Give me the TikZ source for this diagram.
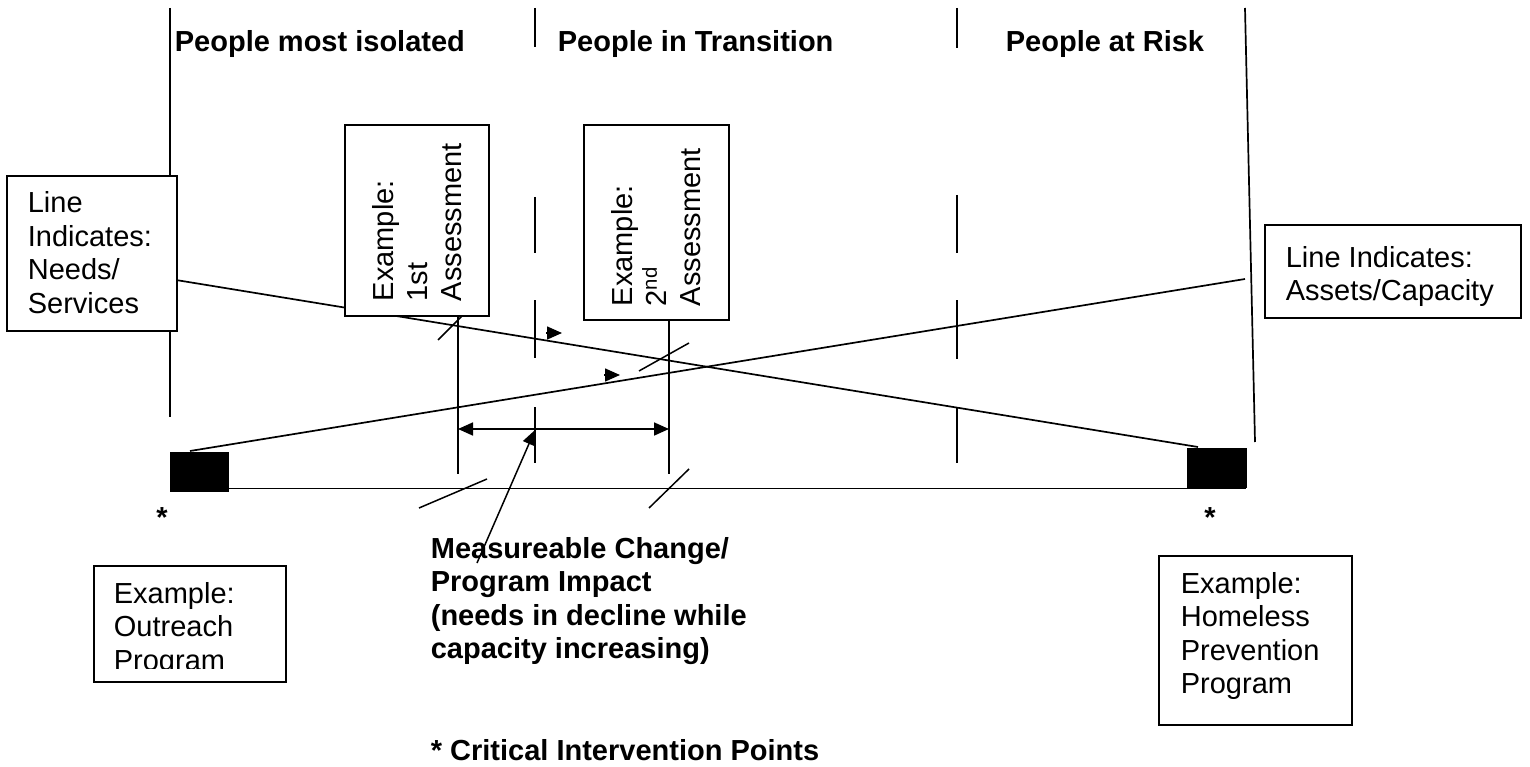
\documentclass[tikz,border=0pt]{standalone}
\usepackage{fontspec}
\setmainfont{Liberation Sans}
\usetikzlibrary{arrows.meta}
\newcommand{\tl}[1]{\begin{tabular}[t]{@{}l@{}}#1\end{tabular}}
\begin{document}
\begin{tikzpicture}[x=1pt,y=-1pt,line width=1.7pt,
  txt/.style={inner sep=0pt,anchor=base west,font=\fontsize{29}{33.5}\selectfont},
  hdr/.style={inner sep=0pt,anchor=base west,font=\fontsize{29}{33.5}\selectfont\bfseries},
  rtxt/.style={inner sep=0pt,anchor=base west,rotate=90,font=\fontsize{29}{34}\selectfont},
  box/.style={draw,fill=white,line width=1.7pt,inner sep=0pt,anchor=north west},
  blk/.style={fill=black,draw=none,inner sep=0pt,anchor=north west},
  tip/.style={-{Triangle[length=15pt,width=13pt]}},
  dtip/.style={{Triangle[length=15pt,width=13pt]}-{Triangle[length=15pt,width=13pt]}},
  star/.style={inner sep=0pt,anchor=base,font=\fontsize{29}{33.5}\selectfont\bfseries}]
\useasboundingbox (0,0) rectangle (1530,767);

% coordinates
\coordinate (l0t) at (170,8);   \coordinate (l0b) at (170,417);
\coordinate (rt)  at (1245,8);  \coordinate (rb)  at (1255,442);
\coordinate (nA) at (176,280);  \coordinate (nB) at (1198,447);
\coordinate (aA) at (190,451);  \coordinate (aB) at (1245,279);
\coordinate (v1t) at (458,315); \coordinate (v1b) at (458,474);
\coordinate (v2t) at (669,319); \coordinate (v2b) at (669,474);
\coordinate (hA) at (458,429);  \coordinate (hB) at (669,429);
\coordinate (pA) at (477,563);  \coordinate (pB) at (535,430);
\coordinate (bA) at (228,488.5); \coordinate (bB) at (1246,488.5);

% vertical boundary lines
\draw (l0t) -- (l0b);
\draw (rt) -- (rb);
\foreach \a/\b in {8/47,197/253,300/358,407/463}{\draw (535,\a) -- (535,\b);}
\foreach \a/\b in {8/48,195/253,300/359,407/463}{\draw (957,\a) -- (957,\b);}

% trend lines
\draw (nA) -- (nB);
\draw (aA) -- (aB);
\draw (bA) -- (bB);

% black squares
\node[blk,minimum width=59pt,minimum height=40pt] (sqL) at (169,451) {};
\node[blk,minimum width=60pt,minimum height=40pt] (sqR) at (1186,447) {};

% assessment lines and arrows
\draw (v1t) -- (v1b);
\draw (v2t) -- (v2b);
\draw[dtip] (hA) -- (hB);
\draw[tip,line width=1.5pt] (pA) -- (pB);

% ticks
\draw[line width=1.5pt] (438,340) -- (462,316);
\draw[line width=1.5pt] (639,371) -- (689,343);
\draw[line width=1.5pt] (419,508) -- (487,479);
\draw[line width=1.5pt] (649,508) -- (689,469);

% small arrows
\draw[tip,line width=1.5pt] (546,333) -- (562,333);
\draw[tip,line width=1.5pt] (604,375) -- (620,375);

% boxes
\node[box,minimum width=170pt,minimum height=155pt] (needs) at (6,175) {};
\node[txt] (needsT) at (27,213) {\tl{Line\\Indicates:\\Needs/\\Services}};

\node[box,minimum width=256pt,minimum height=93pt] (assets) at (1264,224) {};
\node[txt] (assetsT) at (1285,267) {\tl{Line Indicates:\\Assets/Capacity}};

\node[box,minimum width=144pt,minimum height=191pt] (b1) at (344,124) {};
\node[rtxt] (b1T) at (393,302) {\tl{Example:\\1st\\Assessment}};

\node[box,minimum width=145pt,minimum height=195pt] (b2) at (583,124) {};
\node[rtxt] (b2T) at (632,307) {\tl{Example:\\2\textsuperscript{nd}\\Assessment}};

\node[box,minimum width=192pt,minimum height=116pt] (outr) at (93,565) {};
\begin{scope}
\clip (93,565) rectangle (285,668.5);
\node[txt] (outrT) at (113,603) {\tl{Example:\\Outreach\\Program}};
\end{scope}

\node[box,minimum width=193pt,minimum height=169pt] (home) at (1158,555) {};
\node[txt] (homeT) at (1180,593) {\tl{Example:\\Homeless\\Prevention\\Program}};

% headers
\node[hdr] (h1) at (174,52) {People most isolated};
\node[hdr] (h2) at (557,52) {People in Transition};
\node[hdr] (h3) at (1005,52) {People at Risk};

% stars
\node[star] (s1) at (162,527) {*};
\node[star] (s2) at (1210,527) {*};

% bottom texts
\node[hdr] (meas) at (430,558) {\tl{Measureable Change/\\Program Impact\\(needs in decline while\\capacity increasing)}};
\node[hdr] (crit) at (430,760) {* Critical Intervention Points};
\end{tikzpicture}
\end{document}
